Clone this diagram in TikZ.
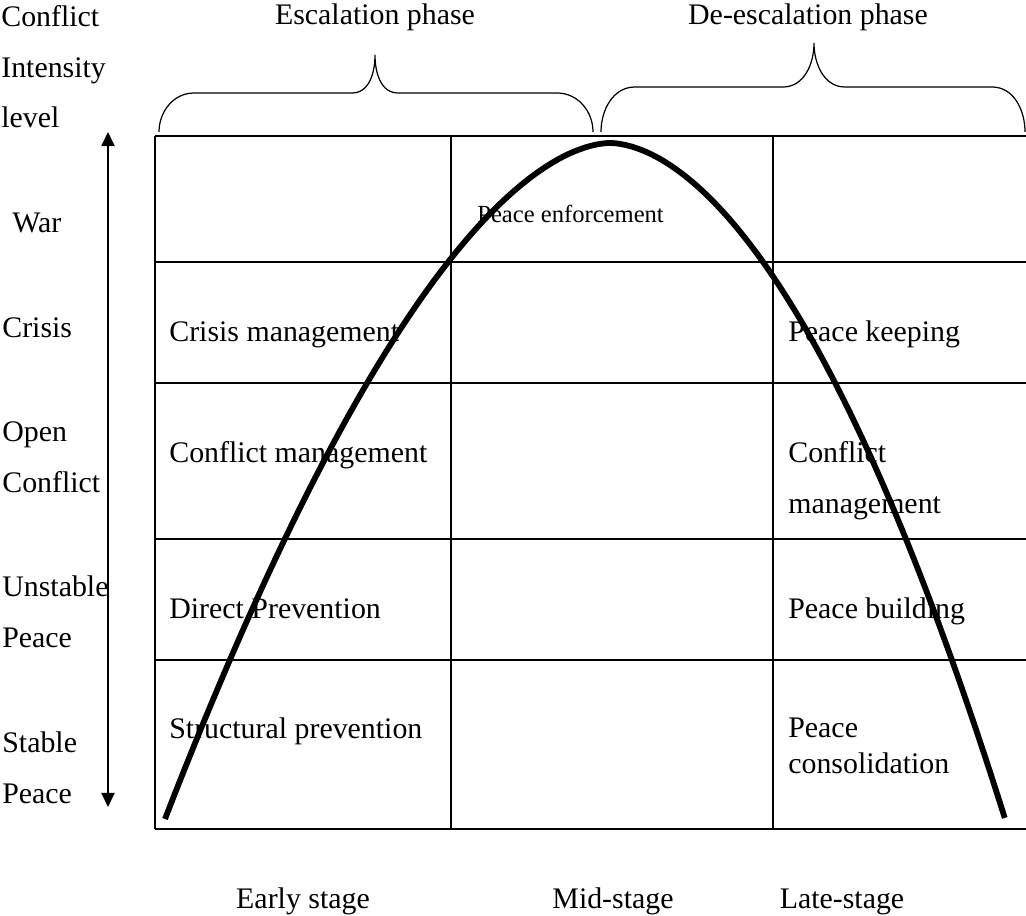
\documentclass[tikz,border=0pt]{standalone}
\usepackage{fontspec}
\setmainfont{Liberation Serif}
\usetikzlibrary{positioning, arrows.meta}

\begin{document}
\begin{tikzpicture}[
      x = 0.02cm, y = -0.02cm,
      every node/.style = {font=\fontsize{17}{29}\selectfont, inner sep=0pt},
      lvltext/.style = {anchor=base west, align=left},
      celltext/.style = {anchor=base west, align=left},
      phasetext/.style = {anchor=base},
      gridline/.style = {line width=1.2pt},
      curve/.style = {line width=3.3pt, line cap=butt},
      bracestyle/.style = {line width=0.7pt},
      arr/.style = {{Triangle[length=8pt,width=7.5pt]}-{Triangle[length=8pt,width=7.5pt]}, line width=0.8pt}
    ]
    \useasboundingbox (0,0) rectangle (1026,915);
    % grid
    \foreach \y in {136, 262, 383, 539, 660, 829}
      \draw[gridline] (155,\y) -- (1026,\y);
    \foreach \x in {155, 451, 773}
      \draw[gridline] (\x,136) -- (\x,829);
    % intensity curve
    \draw[curve] plot[domain=-1:1, samples=120, variable=\t, smooth]
      ({610 - 25*(\t)*(\t) + 420*(\t)*abs(\t)^0.13}, {143 + 676*(\t)*(\t)});
    % phases
    \node[phasetext] (esc) at (375,25) {Escalation phase};
    \node[phasetext] (desc) at (808,25) {De-escalation phase};
    \draw[bracestyle] (159,132) to[out=90,in=180] (194,93) -- (352,93) to[out=0,in=-90] (375,55)
      to[out=-90,in=180] (398,93) -- (557,93) to[out=0,in=90] (593,132);
    \draw[bracestyle] (601,132) to[out=90,in=180] (635,87) -- (783,87) to[out=0,in=-90] (814,43)
      to[out=-90,in=180] (845,87) -- (992,87) to[out=0,in=90] (1025,132);
    % intensity axis (multi-line nodes sit on their last line)
    \node[lvltext] (axis) at (1,128) {Conflict\\Intensity\\level};
    \coordinate (axtop) at (108,132);
    \coordinate (axbot) at (108,807);
    \draw[arr] (axtop) -- (axbot);
    \node[lvltext] (war) at (12,233) {War};
    \node[lvltext] (crisis) at (2,337) {Crisis};
    \node[lvltext] (open) at (2,492) {Open\\Conflict};
    \node[lvltext] (unstable) at (2,647) {Unstable\\Peace};
    \node[lvltext] (stable) at (2,803) {Stable\\Peace};
    % cells
    \node[celltext, font=\fontsize{14}{20}\selectfont] (enforce) at (477,223) {Peace enforcement};
    \node[celltext] (crisismgmt) at (169,341) {Crisis management};
    \node[celltext] (conflmgmt) at (169,462) {Conflict management};
    \node[celltext] (direct) at (169,618) {Direct Prevention};
    \node[celltext] (struct) at (169,738) {Structural prevention};
    \node[celltext] (keeping) at (788,341) {Peace keeping};
    \node[celltext] (lateconfl) at (788,513) {Conflict\\management};
    \node[celltext] (building) at (788,618) {Peace building};
    \node[celltext, font=\fontsize{17}{20}\selectfont] (consol) at (788,773) {Peace\\consolidation};
    % stages
    \node[phasetext] (early) at (303,908) {Early stage};
    \node[phasetext] (mid) at (613,908) {Mid-stage};
    \node[phasetext] (late) at (842,908) {Late-stage};
\end{tikzpicture}
\end{document}
